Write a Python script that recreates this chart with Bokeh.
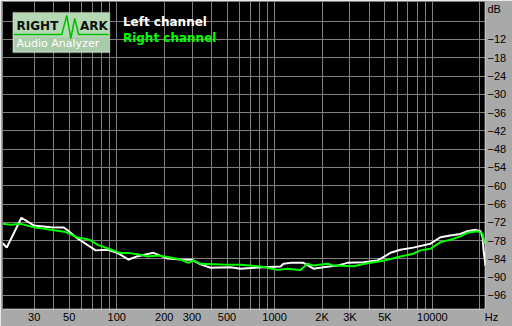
from bokeh.plotting import figure
from bokeh.models import Range1d, FixedTicker, Label, BoxAnnotation, Span
from bokeh.embed import file_html
from bokeh.resources import INLINE

# ---- data ----
left_freq = [19.0, 20.1, 24.9, 29.8, 38.2, 46.2, 49.7, 56.5, 73.6, 87.9, 101.7, 119, 136, 171, 210,
             254, 300, 340, 393, 527, 609, 705, 852, 1091, 1140, 1262, 1526, 1765, 2042, 2504, 2897,
             3660, 4486, 4691, 5427, 6271, 7568, 9718, 11250, 13000, 15060, 16660, 18700, 20180,
             20800, 21100, 21700]
left_db = [-78.8, -80.3, -70.5, -73.0, -73.6, -73.7, -74.9, -77.3, -81.2, -81.0, -82.1, -84.2, -83.1,
           -82.0, -83.9, -84.2, -84.3, -85.8, -86.9, -86.7, -87.2, -87.0, -86.7, -86.5, -85.6, -85.3,
           -85.3, -87.2, -86.7, -86.2, -85.3, -85.1, -84.5, -84.0, -82.0, -81.0, -80.3, -79.0, -76.9,
           -76.3, -75.8, -74.9, -74.4, -74.9, -76.9, -81.2, -86.2]

right_freq = [19.0, 21.3, 24.7, 29.8, 38.2, 47.6, 56.5, 66.5, 75.9, 91.6, 106, 119, 136, 157, 182,
              210, 254, 285, 307, 340, 455, 609, 816, 1045, 1208, 1461, 1618, 1765, 2166, 2363, 3163,
              3876, 4691, 5427, 6271, 7568, 8385, 9718, 11250, 13000, 15060, 16660, 19240, 20800,
              21400]
right_db = [-72.5, -72.8, -72.5, -73.6, -74.4, -75.2, -77.0, -77.6, -79.4, -80.9, -82.1, -82.1, -82.5,
            -83.2, -82.9, -83.4, -84.2, -85.3, -84.5, -85.6, -85.8, -85.9, -86.5, -87.6, -87.2, -87.6,
            -85.6, -86.2, -85.6, -86.2, -86.4, -85.4, -84.8, -84.0, -83.2, -82.3, -81.2, -80.7, -78.5,
            -77.7, -76.6, -75.4, -74.9, -75.8, -79.0]

x_unit_pos = 21650
x_ticks = [30, 50, 100, 200, 300, 500, 1000, 2000, 3000, 5000, 10000, x_unit_pos]
x_tick_labels = {2000: "2K", 3000: "3K", 5000: "5K", x_unit_pos: "\u00a0\u00a0\u00a0\u00a0Hz"}
x_grid = [30, 40, 50, 60, 70, 80, 90, 100, 200, 300, 400, 500, 600, 700, 800, 900, 1000,
          2000, 3000, 4000, 5000, 6000, 7000, 8000, 9000, 10000, 20000]
y_ticks = [-12, -18, -24, -30, -36, -42, -48, -54, -60, -66, -72, -78, -84, -90, -96]
y_unit_pos = -1.84
y_grid = [-6] + y_ticks

BG = "#A9A9A9"
GRID = "#808080"
FONT = "Liberation Sans"

p = figure(width=512, height=326, x_axis_type="log", y_axis_location="right",
           x_range=Range1d(18.9, 21700), y_range=Range1d(-100.6, 0.46),
           output_backend="svg", toolbar_location=None,
           min_border_left=2, min_border_right=27, min_border_top=1, min_border_bottom=17)
p.background_fill_color = "black"
p.border_fill_color = BG
p.outline_line_color = GRID
p.outline_line_width = 1

# axes
xa = p.xaxis[0]
xa.ticker = FixedTicker(ticks=x_ticks)
xa.major_label_overrides = x_tick_labels
ya = p.yaxis[0]
ya.ticker = FixedTicker(ticks=[y_unit_pos] + y_ticks)
ya.major_label_overrides = {y_unit_pos: "dB"}
for ax in (xa, ya):
    ax.axis_line_color = None
    ax.major_tick_line_color = None
    ax.minor_tick_line_color = None
    ax.major_tick_out = 0
    ax.major_tick_in = 0
    ax.minor_tick_out = 0
    ax.major_label_text_font = FONT
    ax.major_label_text_font_size = "11px"
    ax.major_label_text_color = "black"
xa.major_label_standoff = 1
ya.major_label_standoff = 2

# grid
p.xgrid[0].ticker = FixedTicker(ticks=x_grid)
p.ygrid[0].ticker = FixedTicker(ticks=y_grid)
for g in (p.xgrid[0], p.ygrid[0]):
    g.grid_line_color = GRID
    g.grid_line_width = 1
    g.grid_line_alpha = 1.0

# frame highlight (sunken border)
p.add_layout(Span(location=21700, dimension="height", line_color="white", line_width=1.5))
p.add_layout(Span(location=-100.6, dimension="width", line_color="white", line_width=1.5))

# logo background (under the glyphs)
p.add_layout(BoxAnnotation(left=22.0, right=90.2, top=-3.15, bottom=-16.27, level="underlay",
                           fill_color="#B4D9B4", fill_alpha=1, line_color="#E8E8E8", line_width=1.5))
p.add_layout(BoxAnnotation(left=22.6, right=89.4, top=-11.3, bottom=-15.8, level="underlay",
                           fill_color="#A9CBA9", fill_alpha=1, line_color=None))
p.line([22.3, 44.9, 48.3, 51.2, 54.2, 57.4, 89.0], [-10.37, -10.37, -4.13, -11.68, -5.12, -10.37, -10.37],
       line_color="#00C000", line_width=1.5)

# data lines
p.line(left_freq, left_db, line_color="white", line_width=2)
p.line(right_freq, right_db, line_color="#00FF00", line_width=2)

# legend
p.add_layout(Label(x=109.5, y=-6.43, text="Left channel", text_font="DejaVu Sans",
                   text_font_style="bold", text_font_size="12px", text_color="white",
                   text_baseline="middle", text_align="left"))
p.add_layout(Label(x=109.5, y=-11.68, text="Right channel", text_font="DejaVu Sans",
                   text_font_style="bold", text_font_size="12px", text_color="#00FF00",
                   text_baseline="middle", text_align="left"))

# logo texts
p.add_layout(Label(x=23.2, y=-7.74, text="RIGHT", text_font="DejaVu Sans", text_font_style="bold",
                   text_font_size="12px", text_color="#101010", text_baseline="middle"))
p.add_layout(Label(x=58.5, y=-7.74, text="ARK", text_font="DejaVu Sans", text_font_style="bold",
                   text_font_size="12px", text_color="#101010", text_baseline="middle"))
p.add_layout(Label(x=23.2, y=-13.3, text="Audio Analyzer", text_font="DejaVu Sans",
                   text_font_size="11px", text_color="white", text_baseline="middle"))

open("out.html", "w").write(file_html(p, INLINE))
